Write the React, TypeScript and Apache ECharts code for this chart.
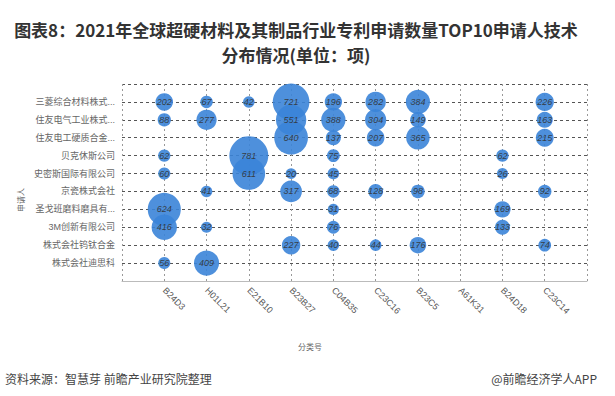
import React, { useEffect, useRef } from "react";
import * as echarts from "echarts";

const codes = ["B24D3", "H01L21", "E21B10", "B23B27", "C04B35", "C23C16", "B23C5", "A61K31", "B24D18", "C23C14"];
const applicants = [
  "三菱综合材料株式...",
  "住友电气工业株式...",
  "住友电工硬质合金...",
  "贝克休斯公司",
  "史密斯国际有限公司",
  "京瓷株式会社",
  "圣戈班磨料磨具有...",
  "3M创新有限公司",
  "株式会社钨钛合金",
  "株式会社迪思科",
];
// values per applicant, aligned with codes (null = no patents)
const row1 = [202, 67, 42, 721, 196, 282, 384, null, null, 226];
const row2 = [88, 277, null, 551, 388, 304, 149, null, null, 163];
const row3 = [null, null, null, 640, 137, 207, 365, null, null, 215];
const row4 = [62, null, 781, null, 75, null, null, null, 62, null];
const row5 = [60, null, 611, 20, 45, null, null, null, 26, null];
const row6 = [null, 41, null, 317, 68, 128, 98, null, null, 92];
const row7 = [624, null, null, null, 31, null, null, null, 169, null];
const row8 = [416, 32, null, null, 76, null, null, null, 133, null];
const row9 = [null, null, null, 227, 40, 44, 176, null, null, 74];
const row10 = [56, 409, null, null, null, null, null, null, null, null];
const rows = [row1, row2, row3, row4, row5, row6, row7, row8, row9, row10];

export default function App() {
  const ref = useRef<HTMLDivElement>(null);
  useEffect(() => {
    if (!ref.current) return;
    const chart = echarts.init(ref.current, null, { renderer: "svg" });
    const n = applicants.length;
    const data: any[] = [];
    rows.forEach((r, i) => {
      r.forEach((v, j) => {
        if (v != null) data.push([j + 1, n - i, v]);
      });
    });
    chart.setOption({
      animation: false,
      backgroundColor: "#fff",
      textStyle: { fontFamily: "'Liberation Sans', 'Noto Sans CJK SC', sans-serif" },
      grid: { left: 122, right: 28, top: 84, bottom: 115 },
      xAxis: {
        type: "value",
        min: 0,
        max: 11,
        interval: 1,
        axisLine: { show: true, lineStyle: { color: "#bbb", width: 1 } },
        axisTick: { show: false },
        axisLabel: {
          rotate: -45,
          fontSize: 9,
          color: "#555",
          margin: 8,
          formatter: (v: number) => (v >= 1 && v <= codes.length ? codes[v - 1] : ""),
        },
        splitLine: { show: true, lineStyle: { color: "#999", type: [2, 3], width: 1 } },
      },
      yAxis: {
        type: "value",
        min: 0,
        max: 11,
        interval: 1,
        axisLine: { show: false },
        axisTick: { show: false },
        axisLabel: {
          fontSize: 9,
          color: "#666",
          margin: 7,
          formatter: (v: number) => (v >= 1 && v <= n ? applicants[n - v] : ""),
        },
        splitLine: { show: true, lineStyle: { color: "#555", type: [3, 3], width: 1 } },
      },
      series: [
        {
          type: "scatter",
          data,
          symbolSize: (d: number[]) => 10 + 0.037 * d[2],
          itemStyle: { color: "#3b84d8", opacity: 0.9 },
          label: {
            show: true,
            position: "inside",
            formatter: (p: any) => String(p.value[2]),
            fontSize: 9,
            fontStyle: "italic",
            color: "#333",
          },
        },
      ],
      graphic: [
        {
          type: "text",
          x: 296,
          y: 29,
          style: {
            text: "图表8：2021年全球超硬材料及其制品行业专利申请数量TOP10申请人技术",
            font: "bold 17px 'Noto Sans CJK SC', sans-serif",
            fill: "#333",
            align: "center",
            verticalAlign: "middle",
          },
        },
        {
          type: "text",
          x: 296,
          y: 54,
          style: {
            text: "分布情况(单位：项)",
            font: "bold 17px 'Noto Sans CJK SC', sans-serif",
            fill: "#333",
            align: "center",
            verticalAlign: "middle",
          },
        },
        {
          type: "text",
          x: 310,
          y: 346,
          style: {
            text: "分类号",
            font: "8px 'Noto Sans CJK SC', sans-serif",
            fill: "#666",
            align: "center",
            verticalAlign: "middle",
          },
        },
        {
          type: "text",
          x: 20,
          y: 200,
          rotation: Math.PI / 2,
          style: {
            text: "申请人",
            font: "8px 'Noto Sans CJK SC', sans-serif",
            fill: "#666",
            align: "center",
            verticalAlign: "middle",
          },
        },
        {
          type: "text",
          x: 5,
          y: 378,
          style: {
            text: "资料来源：智慧芽 前瞻产业研究院整理",
            font: "12px 'Noto Sans CJK SC', sans-serif",
            fill: "#444",
            align: "left",
            verticalAlign: "middle",
          },
        },
        {
          type: "text",
          x: 597,
          y: 378,
          style: {
            text: "@前瞻经济学人APP",
            font: "12px 'Noto Sans CJK SC', sans-serif",
            fill: "#444",
            align: "right",
            verticalAlign: "middle",
          },
        },
      ],
    });
    return () => chart.dispose();
  }, []);
  return <div ref={ref} style={{ width: 615, height: 396, position: "fixed", left: 0, top: 0 }} />;
}
